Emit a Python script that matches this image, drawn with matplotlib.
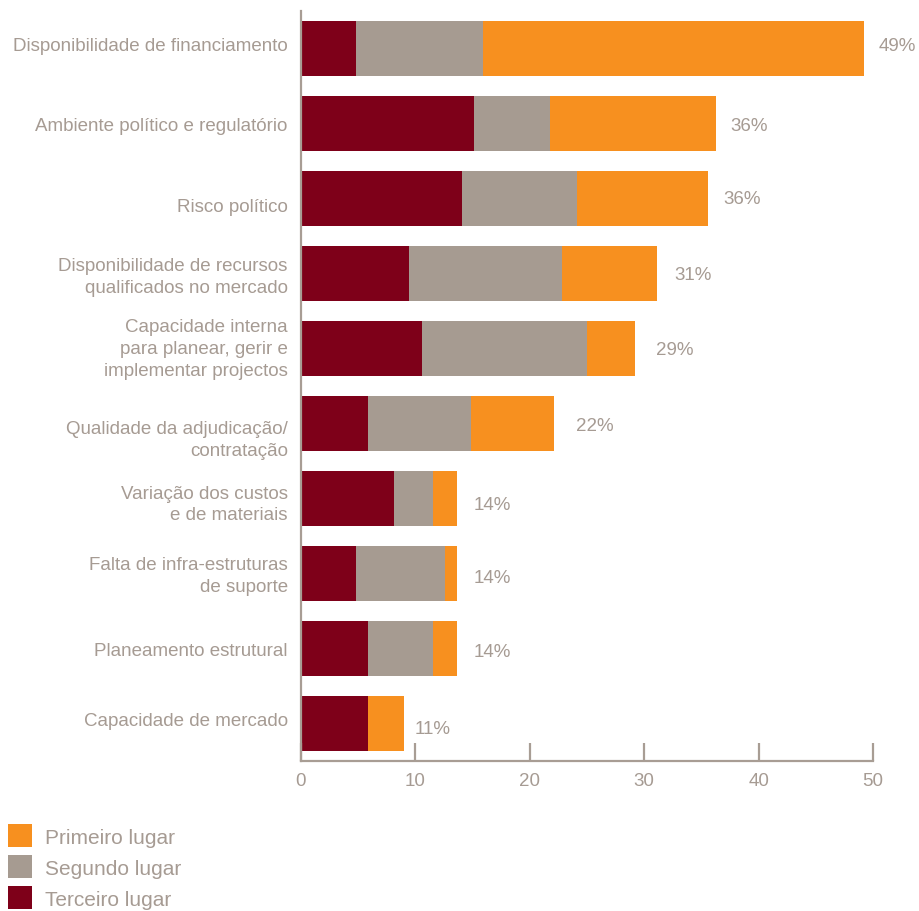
import matplotlib
matplotlib.use("Agg")
import matplotlib.pyplot as plt
import numpy as np

plt.rcParams["font.family"] = ["Liberation Sans", "DejaVu Sans"]

categories = [
    "Disponibilidade de financiamento",
    "Ambiente político e regulatório",
    "Risco político",
    "Disponibilidade de recursos\nqualificados no mercado",
    "Capacidade interna\npara planear, gerir e\nimplementar projectos",
    "Qualidade da adjudicação/\ncontratação",
    "Variação dos custos\ne de materiais",
    "Falta de infra-estruturas\nde suporte",
    "Planeamento estrutural",
    "Capacidade de mercado",
]
terceiro = [4.8, 15.1, 14.1, 9.4, 10.6, 5.9, 8.1, 4.8, 5.9, 5.9]
segundo = [11.1, 6.7, 10.0, 13.4, 14.4, 9.0, 3.4, 7.8, 5.6, 0.0]
primeiro = [33.3, 14.5, 11.5, 8.3, 4.2, 7.2, 2.1, 1.0, 2.1, 3.1]
total_labels = ["49%", "36%", "36%", "31%", "29%", "22%", "14%", "14%", "14%", "11%"]
series_names = ["Primeiro lugar", "Segundo lugar", "Terceiro lugar"]
x_ticks = [0, 10, 20, 30, 40, 50]

# layout nudges (points) for the category captions and the total labels
cat_dy = [2.5, -1.4, -5.4, -2.2, 0.0, -11.5, -4.0, -1.4, -1.4, 1.8]
pct_dx = [-0.7, -0.7, 0.0, 1.4, 4.3, 5.0, 1.4, 1.4, 1.4, -3.6]
pct_dy = [2.2, -1.4, 0.0, -0.7, -0.7, -1.4, -4.3, -2.9, -2.2, -3.6]

C_DARK = "#7E0019"
C_GREY = "#A69B91"
C_ORANGE = "#F7901F"
C_TEXT = "#A69B93"
C_AXIS = "#A89D94"

W, H = 919, 912
fig = plt.figure(figsize=(W / 100, H / 100), dpi=100)
ax = fig.add_axes([301 / W, 1 - 762 / H, (873 - 301) / W, (762 - 12) / H])

y = np.arange(len(categories))
t = np.array(terceiro)
s = np.array(segundo)
p = np.array(primeiro)
h = 0.733

b3 = ax.barh(y, t, height=h, color=C_DARK, linewidth=0)
b2 = ax.barh(y, s, left=t, height=h, color=C_GREY, linewidth=0)
b1 = ax.barh(y, p, left=t + s, height=h, color=C_ORANGE, linewidth=0)

totals = t + s + p
for yi, tot, lab, dx, dy in zip(y, totals, total_labels, pct_dx, pct_dy):
    ax.annotate(lab, (tot, yi), xytext=(11 + dx, dy), textcoords="offset points",
                ha="left", va="center", fontsize=13.5, color=C_TEXT)

for yi, cat, dy in zip(y, categories, cat_dy):
    ax.annotate(cat, (0, yi), xytext=(-9.5, dy), textcoords="offset points",
                ha="right", va="center", fontsize=13.5, color=C_TEXT,
                linespacing=1.35, annotation_clip=False)

ax.set_xlim(0, 50)
ax.set_ylim(len(categories) - 0.5, -0.5)
ax.set_yticks([])
ax.set_xticks(x_ticks)
ax.set_xticklabels([str(v) for v in x_ticks])
ax.tick_params(axis="x", direction="in", length=13, width=1.6, color=C_AXIS,
               labelsize=13.5, labelcolor=C_TEXT, pad=8)
for side in ("top", "right"):
    ax.spines[side].set_visible(False)
for side in ("left", "bottom"):
    ax.spines[side].set_color(C_AXIS)
    ax.spines[side].set_linewidth(1.6)

leg = fig.legend([b1, b2, b3], series_names, loc="lower left",
                 bbox_to_anchor=(8 / W, 1 - 910 / H), frameon=False,
                 fontsize=15, labelcolor=C_TEXT, borderpad=0, borderaxespad=0,
                 handlelength=1.15, handleheight=1.3, handletextpad=0.62,
                 labelspacing=0.4)

fig.savefig("out.png", dpi=100)
